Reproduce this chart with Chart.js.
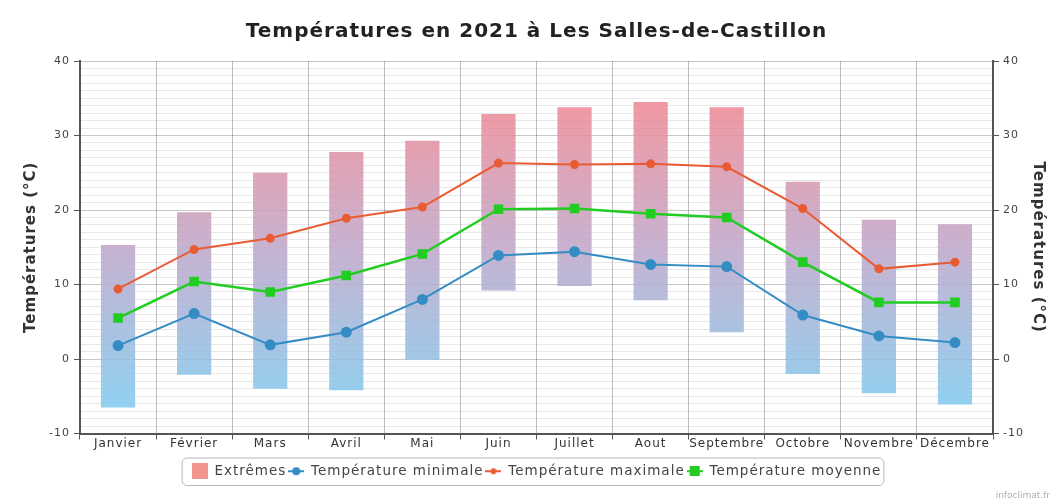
<!DOCTYPE html>
<html>
<head>
<meta charset="utf-8">
<script src="https://cdn.jsdelivr.net/npm/chart.js@4"></script>
<style>
  html, body { margin: 0; padding: 0; background: #fff; }
  #wrap { width: 1052px; height: 500px; position: relative; }
</style>
</head>
<body>
<div id="wrap"><canvas id="graphique"></canvas></div>
<script>
const mois = ["Janvier", "Février", "Mars", "Avril", "Mai", "Juin", "Juillet", "Aout", "Septembre", "Octobre", "Novembre", "Décembre"];
const extremesMin = [-6.5, -2.1, -4.0, -4.2, -0.1, 9.2, 9.8, 7.9, 3.6, -2.0, -4.6, -6.1];
const extremesMax = [15.3, 19.7, 25.0, 27.8, 29.3, 32.9, 33.8, 34.5, 33.8, 23.8, 18.7, 18.1];
const tempMin = [1.8, 6.1, 1.9, 3.6, 8.0, 13.9, 14.4, 12.7, 12.4, 5.9, 3.1, 2.2];
const tempMax = [9.4, 14.7, 16.2, 18.9, 20.4, 26.3, 26.1, 26.2, 25.8, 20.2, 12.1, 13.0];
const tempMoy = [5.5, 10.4, 9.0, 11.2, 14.1, 20.1, 20.2, 19.5, 19.0, 13.0, 7.6, 7.6];
const yMin = -10, yMax = 40;

const bleu = "rgb(52,140,196)";
const orange = "rgb(232,92,52)";
const vert = "rgb(34,204,34)";

// petit symbole ligne + point pour la légende
function symbole(couleur, forme) {
    const c = document.createElement("canvas");
    c.width = 16; c.height = 10;
    const ctx = c.getContext("2d");
    ctx.strokeStyle = couleur; ctx.fillStyle = couleur; ctx.lineWidth = 2;
    ctx.beginPath(); ctx.moveTo(0, 5); ctx.lineTo(16, 5); ctx.stroke();
    ctx.beginPath();
    if (forme === "rect") ctx.rect(3, 0, 10, 10);
    else ctx.arc(8, 5, forme === "petit" ? 3 : 4, 0, Math.PI * 2);
    ctx.fill();
    return c;
}
function carre() {
    const c = document.createElement("canvas");
    c.width = 16; c.height = 16;
    const ctx = c.getContext("2d");
    ctx.fillStyle = "rgb(240,150,140)";
    ctx.fillRect(0, 0, 16, 16);
    return c;
}
const symboles = [carre(), symbole(bleu, "rond"), symbole(orange, "petit"), symbole(vert, "rect")];

function degrade(context) {
    const chart = context.chart;
    const area = chart.chartArea;
    if (!area) return "rgba(200,160,200,0.8)";
    const y = chart.scales.y;
    const g = chart.ctx.createLinearGradient(0, y.getPixelForValue(36), 0, y.getPixelForValue(-6));
    g.addColorStop(0, "rgba(242,132,142,0.85)");
    g.addColorStop(0.5, "rgba(190,165,200,0.85)");
    g.addColorStop(1, "rgba(128,200,238,0.85)");
    return g;
}

// texte un peu espacé comme sur l'original
const espacement = {
    id: "espacement",
    beforeUpdate(chart) { chart.ctx.letterSpacing = "1px"; },
    beforeDraw(chart) { chart.ctx.letterSpacing = "1px"; }
};

const cadreLegende = {
    id: "cadreLegende",
    afterDraw(chart) {
        const boxes = chart.legend.legendHitBoxes;
        if (!boxes || !boxes.length) return;
        const ctx = chart.ctx;
        const gauche = Math.min(...boxes.map(b => b.left)) - 10;
        const droite = Math.max(...boxes.map(b => b.left + b.width)) + 2;
        const haut = boxes[0].top - 7;
        const h = boxes[0].height + 14;
        ctx.save();
        ctx.strokeStyle = "#b8b8b8";
        ctx.lineWidth = 1;
        ctx.beginPath();
        ctx.roundRect(gauche + 0.5, haut + 0.5, droite - gauche, h, 5);
        ctx.stroke();
        ctx.letterSpacing = "0px";
        ctx.fillStyle = "#b0b0b0";
        ctx.font = "9px 'DejaVu Sans'";
        ctx.textAlign = "right";
        ctx.fillText("infoclimat.fr", 1050, 496);
        ctx.restore();
    }
};

const majeur = ctx => ctx.tick && ctx.tick.value % 10 === 0;
const policeTicks = { family: "DejaVu Sans", size: 11 };
const policeAxe = { family: "DejaVu Sans", size: 15, weight: "bold" };

new Chart(document.getElementById("graphique"), {
    data: {
        labels: mois,
        datasets: [
            {
                type: "line", label: "Température minimale", data: tempMin,
                borderColor: bleu, backgroundColor: bleu, borderWidth: 2,
                pointRadius: 4.5, pointStyle: "circle", order: 1
            },
            {
                type: "line", label: "Température maximale", data: tempMax,
                borderColor: orange, backgroundColor: orange, borderWidth: 2,
                pointRadius: 3.5, pointStyle: "circle", order: 1
            },
            {
                type: "line", label: "Température moyenne", data: tempMoy,
                borderColor: vert, backgroundColor: vert, borderWidth: 2.5,
                pointRadius: 5, pointStyle: "rect", order: 1
            },
            {
                type: "bar", label: "Extrêmes",
                data: mois.map((m, i) => [extremesMin[i], extremesMax[i]]),
                backgroundColor: degrade, borderWidth: 0, borderSkipped: false,
                barPercentage: 0.45, categoryPercentage: 1, order: 2
            }
        ]
    },
    options: {
        responsive: true,
        maintainAspectRatio: false,
        animation: false,
        layout: { padding: { left: 0, right: 0, top: 0, bottom: 12 } },
        plugins: {
            title: {
                display: true,
                fullSize: false,
                text: "Températures en 2021 à Les Salles-de-Castillon",
                color: "#222",
                font: { family: "DejaVu Sans", size: 20, weight: "bold" },
                padding: { top: 20, bottom: 17 }
            },
            legend: {
                position: "bottom",
                fullSize: false,
                labels: {
                    usePointStyle: true,
                    pointStyleWidth: 16,
                    padding: 2,
                    color: "#444",
                    font: { family: "DejaVu Sans", size: 13.5 },
                    generateLabels(chart) {
                        const ordre = [3, 0, 1, 2];
                        return ordre.map((idx, k) => ({
                            text: chart.data.datasets[idx].label,
                            pointStyle: symboles[k],
                            datasetIndex: idx,
                            fontColor: "#444",
                            hidden: false,
                            lineWidth: 0
                        }));
                    }
                }
            },
            tooltip: { enabled: false }
        },
        scales: {
            x: {
                offset: true,
                afterFit: s => { s.height = 29; },
                grid: { offset: true, color: "rgba(0,0,0,0.25)", tickLength: 6, tickColor: "#555" },
                border: { color: "#555", width: 2 },
                ticks: { color: "#333", font: { family: "DejaVu Sans", size: 12 }, maxRotation: 0, autoSkip: false, padding: -3 }
            },
            y: {
                position: "left",
                min: yMin, max: yMax,
                afterFit: s => { s.width = 80; },
                grid: {
                    color: ctx => majeur(ctx) ? "rgba(0,0,0,0.22)" : "rgba(0,0,0,0.09)",
                    tickColor: ctx => majeur(ctx) ? "#555" : "rgba(0,0,0,0)",
                    tickLength: 6
                },
                border: { color: "#555", width: 2 },
                ticks: {
                    stepSize: 1, maxTicksLimit: 100, autoSkip: false, padding: 4,
                    color: "#444", font: policeTicks,
                    callback: v => v % 10 === 0 ? v : ""
                },
                title: {
                    display: true, text: "Températures (°C)", color: "#333",
                    font: policeAxe, padding: { top: 22, bottom: 0 }
                }
            },
            y2: {
                position: "right",
                min: yMin, max: yMax,
                afterFit: s => { s.width = 59; },
                grid: {
                    drawOnChartArea: false,
                    tickColor: ctx => majeur(ctx) ? "#555" : "rgba(0,0,0,0)",
                    tickLength: 6
                },
                border: { color: "#555", width: 2 },
                ticks: {
                    stepSize: 1, maxTicksLimit: 100, autoSkip: false, padding: 4,
                    color: "#444", font: policeTicks,
                    callback: v => v % 10 === 0 ? v : ""
                },
                title: {
                    display: true, text: "Températures (°C)", color: "#333",
                    font: policeAxe, padding: { top: 5, bottom: 0 }
                }
            }
        }
    },
    plugins: [espacement, cadreLegende]
});
</script>
</body>
</html>
